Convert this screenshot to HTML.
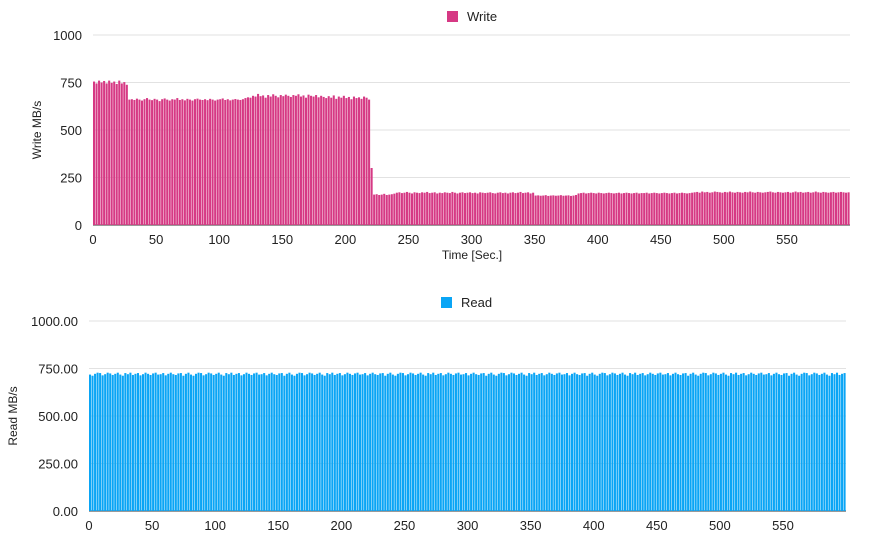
<!DOCTYPE html>
<html><head><meta charset="utf-8"><style>
body{margin:0;background:#fff;}
svg{display:block;font-family:"Liberation Sans",sans-serif;}
</style></head><body>
<svg id="chart" width="886" height="534">
<g id="top"></g><g id="bot"></g>
</svg>
<script>
const writeTicks=[0,250,500,750,1000];
const readTicks=["0.00","250.00","500.00","750.00","1000.00"];
const xTicks=[0,50,100,150,200,250,300,350,400,450,500,550];
const writeSegA=[755,745,760,750,758,745,760,748,755,742,760,745,752,738];
const writeSegB=[660,662,658,665,660,655,662,668,660,657,
664,660,652,662,666,660,655,662,660,668,
658,662,656,664,660,655,662,665,660,658,
662,657,664,660,655,660,662,666,658,662,
656,660,663,660,658,662];
const writeSegC=[668,672,670,680,676,690,678,682,670,684,
676,688,680,672,684,678,686,680,674,684,
680,688,676,682,670,686,680,676,684,672,
680,674,668,678,670,682,664,676,670,680,
668,674,662,676,668,672,664,676,670,660];
const writeSegD=[300];
const writeSegE=[160,162,158,160,164,158,160,162,165];
const writeSegF=[170,172,168,170,174,170,166,172,170,168,
172,170,174,168,170,172,166,170,168,172,
170,168,174,170,166,170,172,168,170,172,
168,170,166,172,170,168,170,172,168,166,
170,172,168,170,166,170,172,168,170,174,
168,170,172,166,170];
const writeSegG=[155,156,154,155,157,153,155,156,154,155,157,154,155,156,153,155,158];
const writeSegH=[166,168,170,166,168,170,168,166,170,168,
166,168,170,168,166,168,170,166,168,170,
168,166,168,170,166,168,168,170,166,168,
170,168,166,168,170,168,166,168,170,166,
168,170,168,166,168,170];
const writeSegI=[172,174,170,176,172,174,170,172,176,174,
172,170,174,172,176,172,170,174,172,170,
174,172,176,172,170,174,172,170,172,174,
176,172,170,174,172,170,172,174,170,172,
176,172,174,170,172,174,170,172,176,172,
170,174,172,170,172,174,170,172,174,172,
170,172];
const writeValues=[].concat(writeSegA,writeSegB,writeSegC,writeSegD,writeSegE,writeSegF,writeSegG,writeSegH,writeSegI);
const readBase=[718,712,722,728,726,714,720,728,724,716,722,728,718,712,726,720,728,716,722,726,714,720,728,722,716,724,728,718,720,726,714,722,728,720,716,724,726,712,722,728];
const readValues=[];
for(let i=0;i<300;i++) readValues.push(readBase[i%readBase.length]);
const NS="http://www.w3.org/2000/svg";
function mk(p,t,a){const e=document.createElementNS(NS,t);for(const k in a)e.setAttribute(k,a[k]);p.appendChild(e);return e;}
function draw(g,opt){
 const xs=t=>opt.x0+t*1.2618, ys=v=>opt.base-v*0.19;
 opt.ticks.forEach((lab,i)=>{const v=parseFloat(lab);const y=ys(v);
  const l=mk(g,'line',{x1:opt.x0,x2:opt.x0+757,y1:y,y2:y,stroke:i==0?'#333':'#e2e2e2','stroke-width':1});
  
  
  const t=mk(g,'text',{x:opt.x0-11,y:y+5,'text-anchor':'end','font-size':13,fill:'#222'});t.textContent=lab;
  
  });
 xTicks.forEach(v=>{const t=mk(g,'text',{x:xs(v),y:opt.base+19,'text-anchor':'middle','font-size':13,fill:'#222'});t.textContent=v;
  
  });
 opt.vals.forEach((v,i)=>{const r=mk(g,'rect',{x:xs(i*2),y:ys(v),width:2.05,height:v*0.19,fill:opt.color});
  
  });
 const lg=mk(g,'rect',{x:opt.lx,y:opt.ly,width:11,height:11,fill:opt.color});
 
 
 const lt=mk(g,'text',{x:opt.lx+20,y:opt.ly+10,'font-size':13,fill:'#222'});lt.textContent=opt.name;
 
 
 const yt=mk(g,'text',{x:0,y:0,'font-size':12,fill:'#222','text-anchor':'middle',transform:`translate(${opt.ytx},${opt.base-95}) rotate(-90)`});yt.textContent=opt.ytitle;
 
 
}
draw(document.getElementById('top'),{x0:93,base:225,ticks:writeTicks.map(String),vals:writeValues,color:'#d63984',lx:447,ly:11,name:'Write',ytitle:'Write MB/s',ytx:41});
draw(document.getElementById('bot'),{x0:89,base:511,ticks:readTicks,vals:readValues,color:'#0aa5f5',lx:441,ly:297,name:'Read',ytitle:'Read MB/s',ytx:17});
const xt=mk(document.getElementById('top'),'text',{x:472,y:259,'text-anchor':'middle','font-size':12,fill:'#222'});xt.textContent='Time [Sec.]';


</script>
</body></html>
